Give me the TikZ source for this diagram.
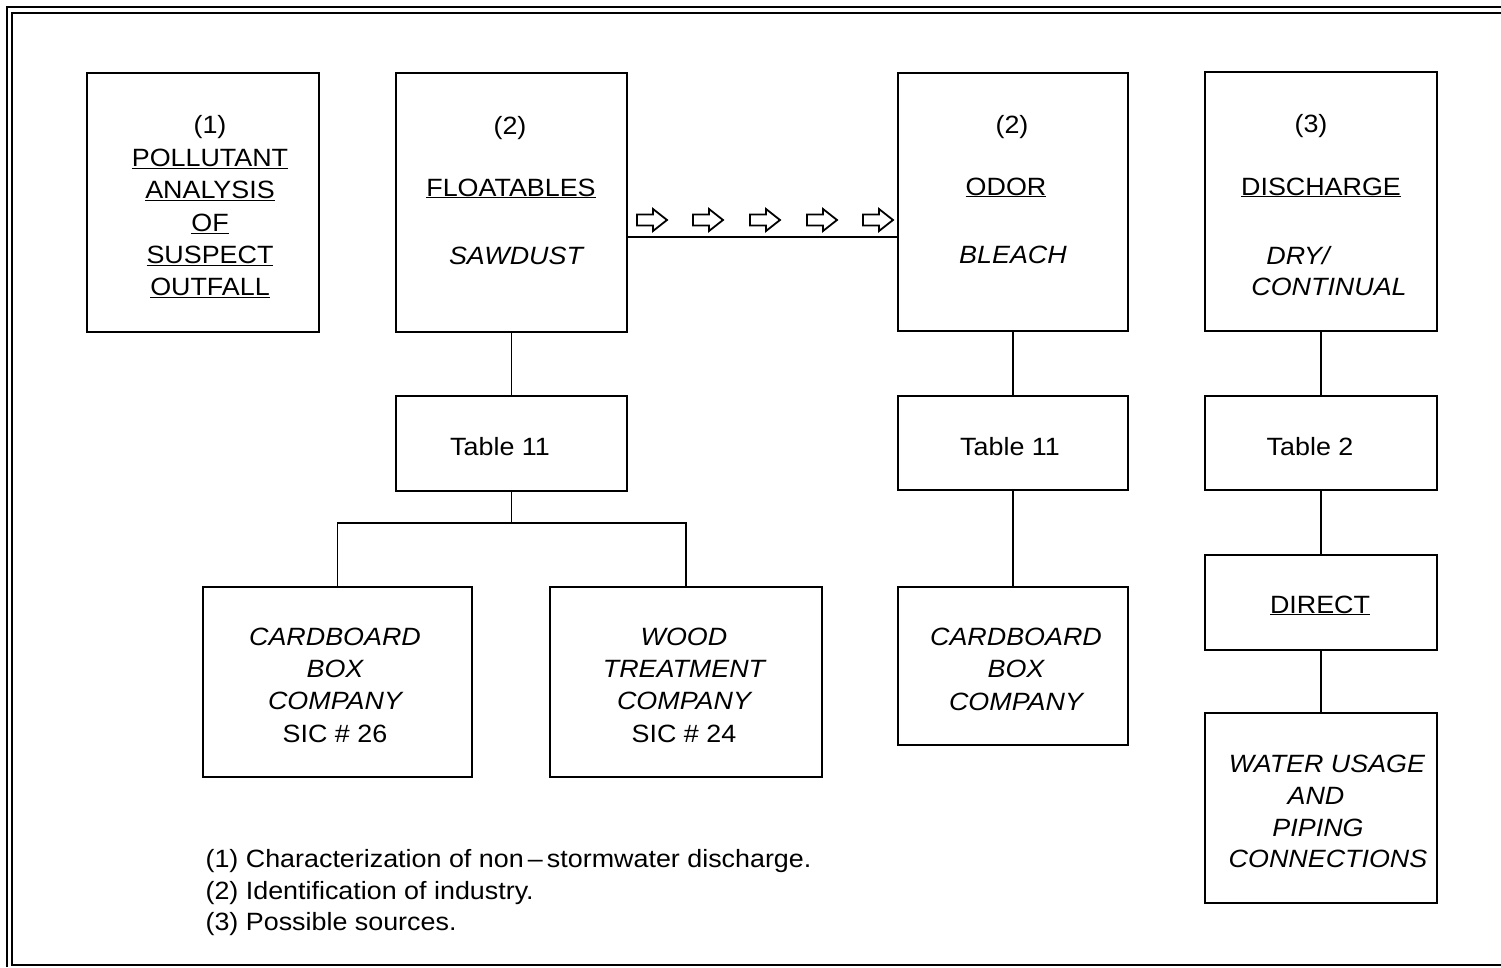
\documentclass[tikz,border=0pt]{standalone}
\usepackage{fontspec}
\setmainfont[FakeStretch=1.075]{Liberation Sans}
\usetikzlibrary{calc}

\begin{document}
\begin{tikzpicture}[x=1pt,y=-1pt,line width=1.2pt,
    box/.style={draw,inner sep=0pt},
    txt/.style={inner sep=0pt,font=\fontsize{25}{32.4}\selectfont,align=center},
    hollow/.style={line width=1.8pt,line join=miter}]
  \useasboundingbox (0,0) rectangle (1501,967);

  % outer frame
  \draw[line width=1.4pt] (7,967) -- (7,7) -- (1501,7);
  \draw[line width=1.4pt] (1501,13) -- (12,13) -- (12,965) -- (1501,965);

  % top row
  \node(pollut) [box,minimum width=232pt,minimum height=259pt] at (203,202.5) {};
  \node(float)  [box,minimum width=231pt,minimum height=259pt] at (511.5,202.5) {};
  \node(odor)   [box,minimum width=230pt,minimum height=258pt] at (1013,202) {};
  \node(disch)  [box,minimum width=232pt,minimum height=259pt] at (1321,201.5) {};

  % tables
  \node(tabA) [box,minimum width=231pt,minimum height=95pt] at (511.5,443.5) {};
  \node(tabB) [box,minimum width=230pt,minimum height=94pt] at (1013,443) {};
  \node(tabC) [box,minimum width=232pt,minimum height=94pt] at (1321,443) {};

  % sources
  \node(cardA)  [box,minimum width=269pt,minimum height=190pt] at (337.5,682) {};
  \node(wood)   [box,minimum width=272pt,minimum height=190pt] at (686,682) {};
  \node(cardB)  [box,minimum width=230pt,minimum height=158pt] at (1013,666) {};
  \node(direct) [box,minimum width=232pt,minimum height=95pt] at (1321,602.5) {};
  \node(water)  [box,minimum width=232pt,minimum height=190pt] at (1321,808) {};

  % connectors
  \coordinate(split) at (511.5,523);
  \draw (float) -- (tabA);
  \draw (tabA) -- (split);
  \draw (cardA.north) -- (cardA.north |- split) -- (wood.north |- split) -- (wood.north);
  \draw (odor) -- (tabB);
  \draw (tabB) -- (cardB);
  \draw (disch) -- (tabC);
  \draw (tabC) -- (direct);
  \draw (direct) -- (water);
  \draw ([yshift=-34.5pt]float.east) -- ([yshift=-35pt]odor.west);

  \foreach \ax in {652,708,765,822,878}
  {
    \draw[hollow] (\ax-15,214.5) -- (\ax+1,214.5) -- (\ax+1,209) -- (\ax+15,220)
      -- (\ax+1,231) -- (\ax+1,225.5) -- (\ax-15,225.5) -- cycle;
  }

  % texts
  \node(pollutTxt) [txt] at (210,207) {(1)\\\underline{POLLUTANT}\\\underline{ANALYSIS}\\
    \underline{OF}\\\underline{SUSPECT}\\\underline{OUTFALL}};

  \node(floatNum)  [txt,anchor=base] at (510,134) {(2)};
  \node(floatHead) [txt,anchor=base] at (511,196) {\underline{FLOATABLES}};
  \node(floatItem) [txt,anchor=base] at (516,264) {\itshape SAWDUST};

  \node(odorNum)  [txt,anchor=base] at (1012,133) {(2)};
  \node(odorHead) [txt,anchor=base] at (1006,195) {\underline{ODOR}};
  \node(odorItem) [txt,anchor=base] at (1013,263) {\itshape BLEACH};

  \node(dischNum)  [txt,anchor=base] at (1311,132) {(3)};
  \node(dischHead) [txt,anchor=base] at (1321,195) {\underline{DISCHARGE}};
  \node(dischDry)  [txt,anchor=base] at (1298,264) {\itshape DRY/};
  \node(dischCont) [txt,anchor=base] at (1329,295) {\itshape CONTINUAL};

  \node(tabAtxt) [txt,anchor=base] at (500,455) {Table 11};
  \node(tabBtxt) [txt,anchor=base] at (1010,455) {Table 11};
  \node(tabCtxt) [txt,anchor=base] at (1310,455) {Table 2};

  \node(cardAtxt) [txt] at (335,685) {\itshape CARDBOARD\\\itshape BOX\\\itshape COMPANY\\SIC \# 26};
  \node(woodTxt)  [txt] at (684,685) {\itshape WOOD\\\itshape TREATMENT\\\itshape COMPANY\\SIC \# 24};
  \node(cardBtxt) [txt] at (1016,669) {\itshape CARDBOARD\\\itshape BOX\\\itshape COMPANY};

  \node(directTxt) [txt,anchor=base] at (1320,613) {\underline{DIRECT}};

  \foreach \wx/\wy/\wt [count=\i] in {1327/772/WATER USAGE,1316/804/AND,1318/836/PIPING,1328/867/CONNECTIONS}
  {
    \node(water\i) [txt,anchor=base] at (\wx,\wy) {\itshape \wt};
  }

  % legend
  \node(legend) [txt,align=left,anchor=west,font=\fontsize{25}{31.5}\selectfont] at (205,893)
    {(1) Characterization of non\,--\,stormwater discharge.\\
     (2) Identification of industry.\\
     (3) Possible sources.};
\end{tikzpicture}
\end{document}
